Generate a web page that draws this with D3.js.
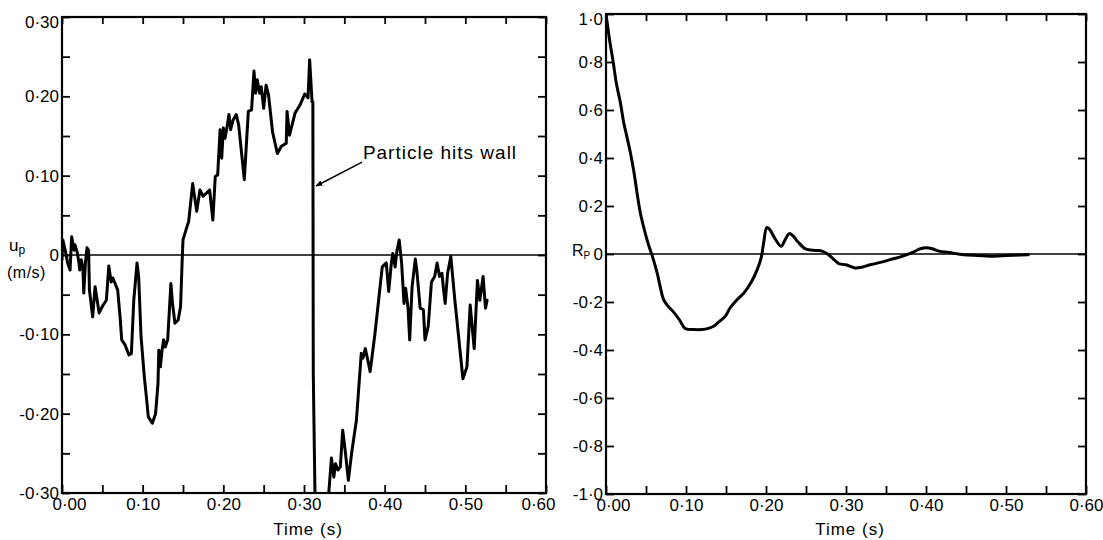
<!DOCTYPE html>
<html>
<head>
<meta charset="utf-8">
<script src="https://cdn.jsdelivr.net/npm/d3@7"></script>
<style>
  html, body { margin: 0; padding: 0; background: #fff; }
  svg { display: block; }
  text { font-family: "Liberation Sans", Arial, sans-serif; fill: #000; }
</style>
</head>
<body>
<svg id="chart" width="1103" height="540"></svg>
<script>
// ---------- DATA ----------
// Left panel: particle velocity u_p (m/s) against time (s)
const upTime = [
  0.000,0.001,0.004,0.007,0.010,0.012,0.015,0.016,0.019,0.021,0.022,0.024,0.026,0.027,0.029,
  0.031,0.033,0.034,0.038,0.041,0.043,0.046,0.051,0.055,0.058,0.061,0.063,0.065,0.069,0.072,
  0.074,0.078,0.083,0.086,0.089,0.093,0.095,0.098,0.102,0.105,0.107,0.112,0.116,0.119,0.120,
  0.122,0.124,0.126,0.128,0.131,0.135,0.137,0.140,0.144,0.147,0.149,0.150,0.155,
  0.157,0.162,0.167,0.171,0.175,0.179,0.183,0.187,0.190,0.193,0.196,0.198,0.200,0.202,0.204,
  0.207,0.209,0.212,0.216,0.219,0.226,0.231,0.235,0.238,0.240,0.242,0.245,0.247,0.250,0.253,
  0.256,0.261,0.267,0.272,0.278,0.279,0.282,0.289,0.295,0.301,0.305,0.307,0.310,
  0.311,0.3115,0.314,0.328,0.331,
  0.334,0.337,0.339,0.342,0.345,0.348,0.351,0.355,0.359,0.365,0.371,0.373,0.376,0.379,0.382,
  0.388,0.397,0.402,0.405,0.408,0.410,0.413,0.415,0.418,0.421,0.424,0.426,0.429,0.431,0.434,
  0.438,0.440,0.444,0.448,0.450,0.454,0.458,0.462,0.465,0.468,0.471,0.473,0.475,0.478,0.482,
  0.487,0.497,0.502,0.506,0.511,0.515,0.518,0.522,0.525,0.527
];
const upValue = [
  -0.006,0.019,0.006,-0.010,-0.019,0.023,0.006,0.013,0.003,-0.010,-0.019,-0.006,-0.019,-0.048,-0.010,
  0.009,0.006,-0.044,-0.078,-0.040,-0.053,-0.073,-0.063,-0.057,-0.014,-0.034,-0.029,-0.034,-0.044,-0.078,
  -0.107,-0.113,-0.126,-0.124,-0.057,-0.010,-0.027,-0.103,-0.153,-0.183,-0.204,-0.212,-0.200,-0.162,-0.120,
  -0.141,-0.120,-0.107,-0.116,-0.107,-0.036,-0.061,-0.086,-0.082,-0.065,-0.006,0.019,0.036,
  0.042,0.090,0.055,0.082,0.074,0.078,0.082,0.044,0.099,0.101,0.158,0.122,0.160,0.147,0.158,
  0.177,0.158,0.170,0.177,0.164,0.095,0.181,0.183,0.232,0.204,0.221,0.204,0.212,0.185,0.214,
  0.202,0.155,0.128,0.137,0.141,0.181,0.151,0.179,0.189,0.203,0.198,0.246,0.193,
  0.193,-0.149,-0.330,-0.330,-0.296,
  -0.256,-0.280,-0.263,-0.271,-0.267,-0.221,-0.246,-0.284,-0.250,-0.208,-0.124,-0.130,-0.118,-0.132,-0.147,
  -0.099,-0.015,-0.010,-0.046,-0.013,0.002,-0.015,0.004,0.019,-0.010,-0.061,-0.042,-0.067,-0.107,-0.040,
  -0.005,-0.021,-0.067,-0.069,-0.107,-0.090,-0.034,-0.027,-0.010,-0.027,-0.023,-0.044,-0.061,-0.023,-0.002,
  -0.057,-0.156,-0.141,-0.063,-0.118,-0.032,-0.057,-0.027,-0.067,-0.057
];

// Right panel: autocorrelation R_P against time lag (s)
const rTime = [
  0.000,0.005,0.009,0.013,0.018,0.022,0.026,0.030,0.035,0.039,0.043,0.048,0.053,0.058,0.064,
  0.068,0.072,0.077,0.084,0.092,0.099,0.110,0.120,0.128,0.135,0.142,0.149,0.155,0.164,0.173,
  0.182,0.189,0.194,0.197,0.201,0.204,0.212,0.219,0.224,0.229,0.234,0.240,0.250,0.262,0.270,
  0.277,0.284,0.291,0.300,0.311,0.320,0.330,0.343,0.359,0.370,0.384,0.393,0.400,0.408,0.416,
  0.429,0.447,0.465,0.480,0.495,0.510,0.528
];
const rValue = [
  1.00,0.88,0.80,0.71,0.63,0.55,0.49,0.43,0.34,0.25,0.17,0.10,0.04,-0.01,-0.08,
  -0.14,-0.19,-0.215,-0.24,-0.275,-0.31,-0.315,-0.315,-0.31,-0.30,-0.28,-0.26,-0.225,-0.19,-0.16,
  -0.115,-0.065,-0.015,0.045,0.11,0.105,0.06,0.032,0.06,0.085,0.075,0.05,0.02,0.015,0.012,
  0.0,-0.02,-0.04,-0.045,-0.058,-0.055,-0.045,-0.035,-0.02,-0.01,0.008,0.022,0.026,0.022,0.012,
  0.006,-0.003,-0.006,-0.009,-0.007,-0.005,-0.003
];

// Tick values and labels
const timeTicks = [0, 0.1, 0.2, 0.3, 0.4, 0.5, 0.6];
const timeTickLabels = ["0·00","0·10","0·20","0·30","0·40","0·50","0·60"];
const upTicks = [-0.3, -0.2, -0.1, 0, 0.1, 0.2, 0.3];
const upTickLabels = ["-0·30","-0·20","-0·10","0","0·10","0·20","0·30"];
const rTicks = [-1, -0.8, -0.6, -0.4, -0.2, 0, 0.2, 0.4, 0.6, 0.8, 1];
const rTickLabels = ["-1·0","-0·8","-0·6","-0·4","-0·2","0","0·2","0·4","0·6","0·8","1·0"];
const timeMinorTicks = d3.range(0, 0.6001, 0.05);
const upMinorTicks = d3.range(-0.3, 0.3001, 0.05);

const annotationText = "Particle hits wall";
const annotationAt = { t: 0.373, u: 0.121 };
const arrowFrom = { t: 0.372, u: 0.117 };
const arrowTo = { t: 0.315, u: 0.087 };

// ---------- DRAW ----------
const svg = d3.select("#chart");

function labelFor(values, labels) {
  return d => {
    const i = values.findIndex(v => Math.abs(v - d) < 1e-9);
    return i >= 0 ? labels[i] : "";
  };
}

svg.append("defs").append("marker")
  .attr("id", "arrowhead").attr("viewBox", "0 0 10 10")
  .attr("refX", 9).attr("refY", 5)
  .attr("markerWidth", 7).attr("markerHeight", 7)
  .attr("markerUnits", "userSpaceOnUse")
  .attr("orient", "auto")
  .append("path").attr("d", "M0,1 L10,5 L0,9 Z").attr("fill", "#000");

function panel(cfg) {
  const { x, y, id } = cfg;
  const g = svg.append("g");
  const [x0, x1] = x.range();
  const [y0, y1] = y.range(); // y0 bottom, y1 top

  g.append("clipPath").attr("id", id).append("rect")
    .attr("x", x0).attr("y", y1).attr("width", x1 - x0).attr("height", y0 - y1);

  const styleAxis = sel => {
    sel.select(".domain").remove();
    sel.selectAll(".tick line").attr("stroke", "#000").attr("stroke-width", 1.8);
    sel.selectAll(".tick text")
      .attr("font-family", "Liberation Sans, Arial, sans-serif")
      .attr("font-size", 17).attr("fill", "#000");
  };

  const bottom = g.append("g").attr("transform", `translate(0,${y0})`)
    .call(d3.axisBottom(x).tickValues(cfg.xMinor).tickSize(-8).tickPadding(5)
      .tickFormat(labelFor(timeTicks, timeTickLabels)))
    .call(styleAxis);
  bottom.selectAll(".tick text").attr("dx", d => d === 0 ? 7 : (Math.abs(d - 0.6) < 1e-9 ? cfg.lastDx : 0));

  g.append("g").attr("transform", `translate(0,${y1})`)
    .call(d3.axisTop(x).tickValues(cfg.xMinor).tickSize(-7).tickFormat(""))
    .call(styleAxis);

  const left = g.append("g").attr("transform", `translate(${x0},0)`)
    .call(d3.axisLeft(y).tickValues(cfg.yMinor).tickSize(-8).tickPadding(3)
      .tickFormat(labelFor(cfg.yTicks, cfg.yLabels)))
    .call(styleAxis);
  const yMax = y.domain()[1];
  left.selectAll(".tick text").attr("dy", d => Math.abs(d - yMax) < 1e-9 ? "0.62em" : "0.32em");

  g.append("g").attr("transform", `translate(${x1},0)`)
    .call(d3.axisRight(y).tickValues(cfg.yMinor).tickSize(-8).tickFormat(""))
    .call(styleAxis);

  g.append("line")
    .attr("x1", x0).attr("x2", x1).attr("y1", y(0)).attr("y2", y(0))
    .attr("stroke", "#000").attr("stroke-width", 1.6);

  g.append("rect")
    .attr("x", x0).attr("y", y1).attr("width", x1 - x0).attr("height", y0 - y1)
    .attr("fill", "none").attr("stroke", "#000").attr("stroke-width", 2.2);

  const pts = cfg.t.map((t, i) => ({ t, v: cfg.v[i] }));
  const line = d3.line().x(d => x(d.t)).y(d => y(d.v)).curve(cfg.curve);
  g.append("path").datum(pts)
    .attr("clip-path", `url(#${id})`)
    .attr("d", line)
    .attr("fill", "none").attr("stroke", "#000")
    .attr("stroke-width", 3).attr("stroke-linejoin", "round").attr("stroke-linecap", "round");

  g.append("text")
    .attr("x", (x0 + x1) / 2 + 4).attr("y", 535)
    .attr("text-anchor", "middle").attr("font-size", 17).attr("letter-spacing", 1)
    .text("Time (s)");
  return g;
}

// Left panel
const xL = d3.scaleLinear().domain([0, 0.6]).range([62, 546]);
const yL = d3.scaleLinear().domain([-0.3, 0.3]).range([493, 17]);
panel({
  id: "clipL", x: xL, y: yL, t: upTime, v: upValue, curve: d3.curveLinear,
  xMinor: timeMinorTicks, yMinor: upMinorTicks, yTicks: upTicks, yLabels: upTickLabels, lastDx: -8
});

// y label u_p (m/s)
const upLabel = svg.append("text").attr("x", 9).attr("y", 251).attr("font-size", 17);
upLabel.append("tspan").text("u");
upLabel.append("tspan").attr("font-size", 12).attr("dy", 3).text("p");
svg.append("text").attr("x", 7).attr("y", 278).attr("font-size", 16).attr("letter-spacing", 0.5).text("(m/s)");

// annotation
svg.append("text")
  .attr("x", xL(annotationAt.t)).attr("y", yL(annotationAt.u))
  .attr("font-size", 19).attr("letter-spacing", 1)
  .text(annotationText);
svg.append("line")
  .attr("x1", xL(arrowFrom.t)).attr("y1", yL(arrowFrom.u))
  .attr("x2", xL(arrowTo.t)).attr("y2", yL(arrowTo.u))
  .attr("stroke", "#000").attr("stroke-width", 1.5)
  .attr("marker-end", "url(#arrowhead)");

// Right panel
const xR = d3.scaleLinear().domain([0, 0.6]).range([606, 1086]);
const yR = d3.scaleLinear().domain([-1, 1]).range([494, 14]);
panel({
  id: "clipR", x: xR, y: yR, t: rTime, v: rValue, curve: d3.curveCatmullRom.alpha(0.5),
  xMinor: timeMinorTicks, yMinor: rTicks, yTicks: rTicks, yLabels: rTickLabels, lastDx: 0
});

// y label R_P
const rLabel = svg.append("text").attr("x", 572).attr("y", 256).attr("font-size", 16);
rLabel.append("tspan").text("R");
rLabel.append("tspan").attr("font-size", 10).attr("dy", 3).text("P");
</script>
</body>
</html>
